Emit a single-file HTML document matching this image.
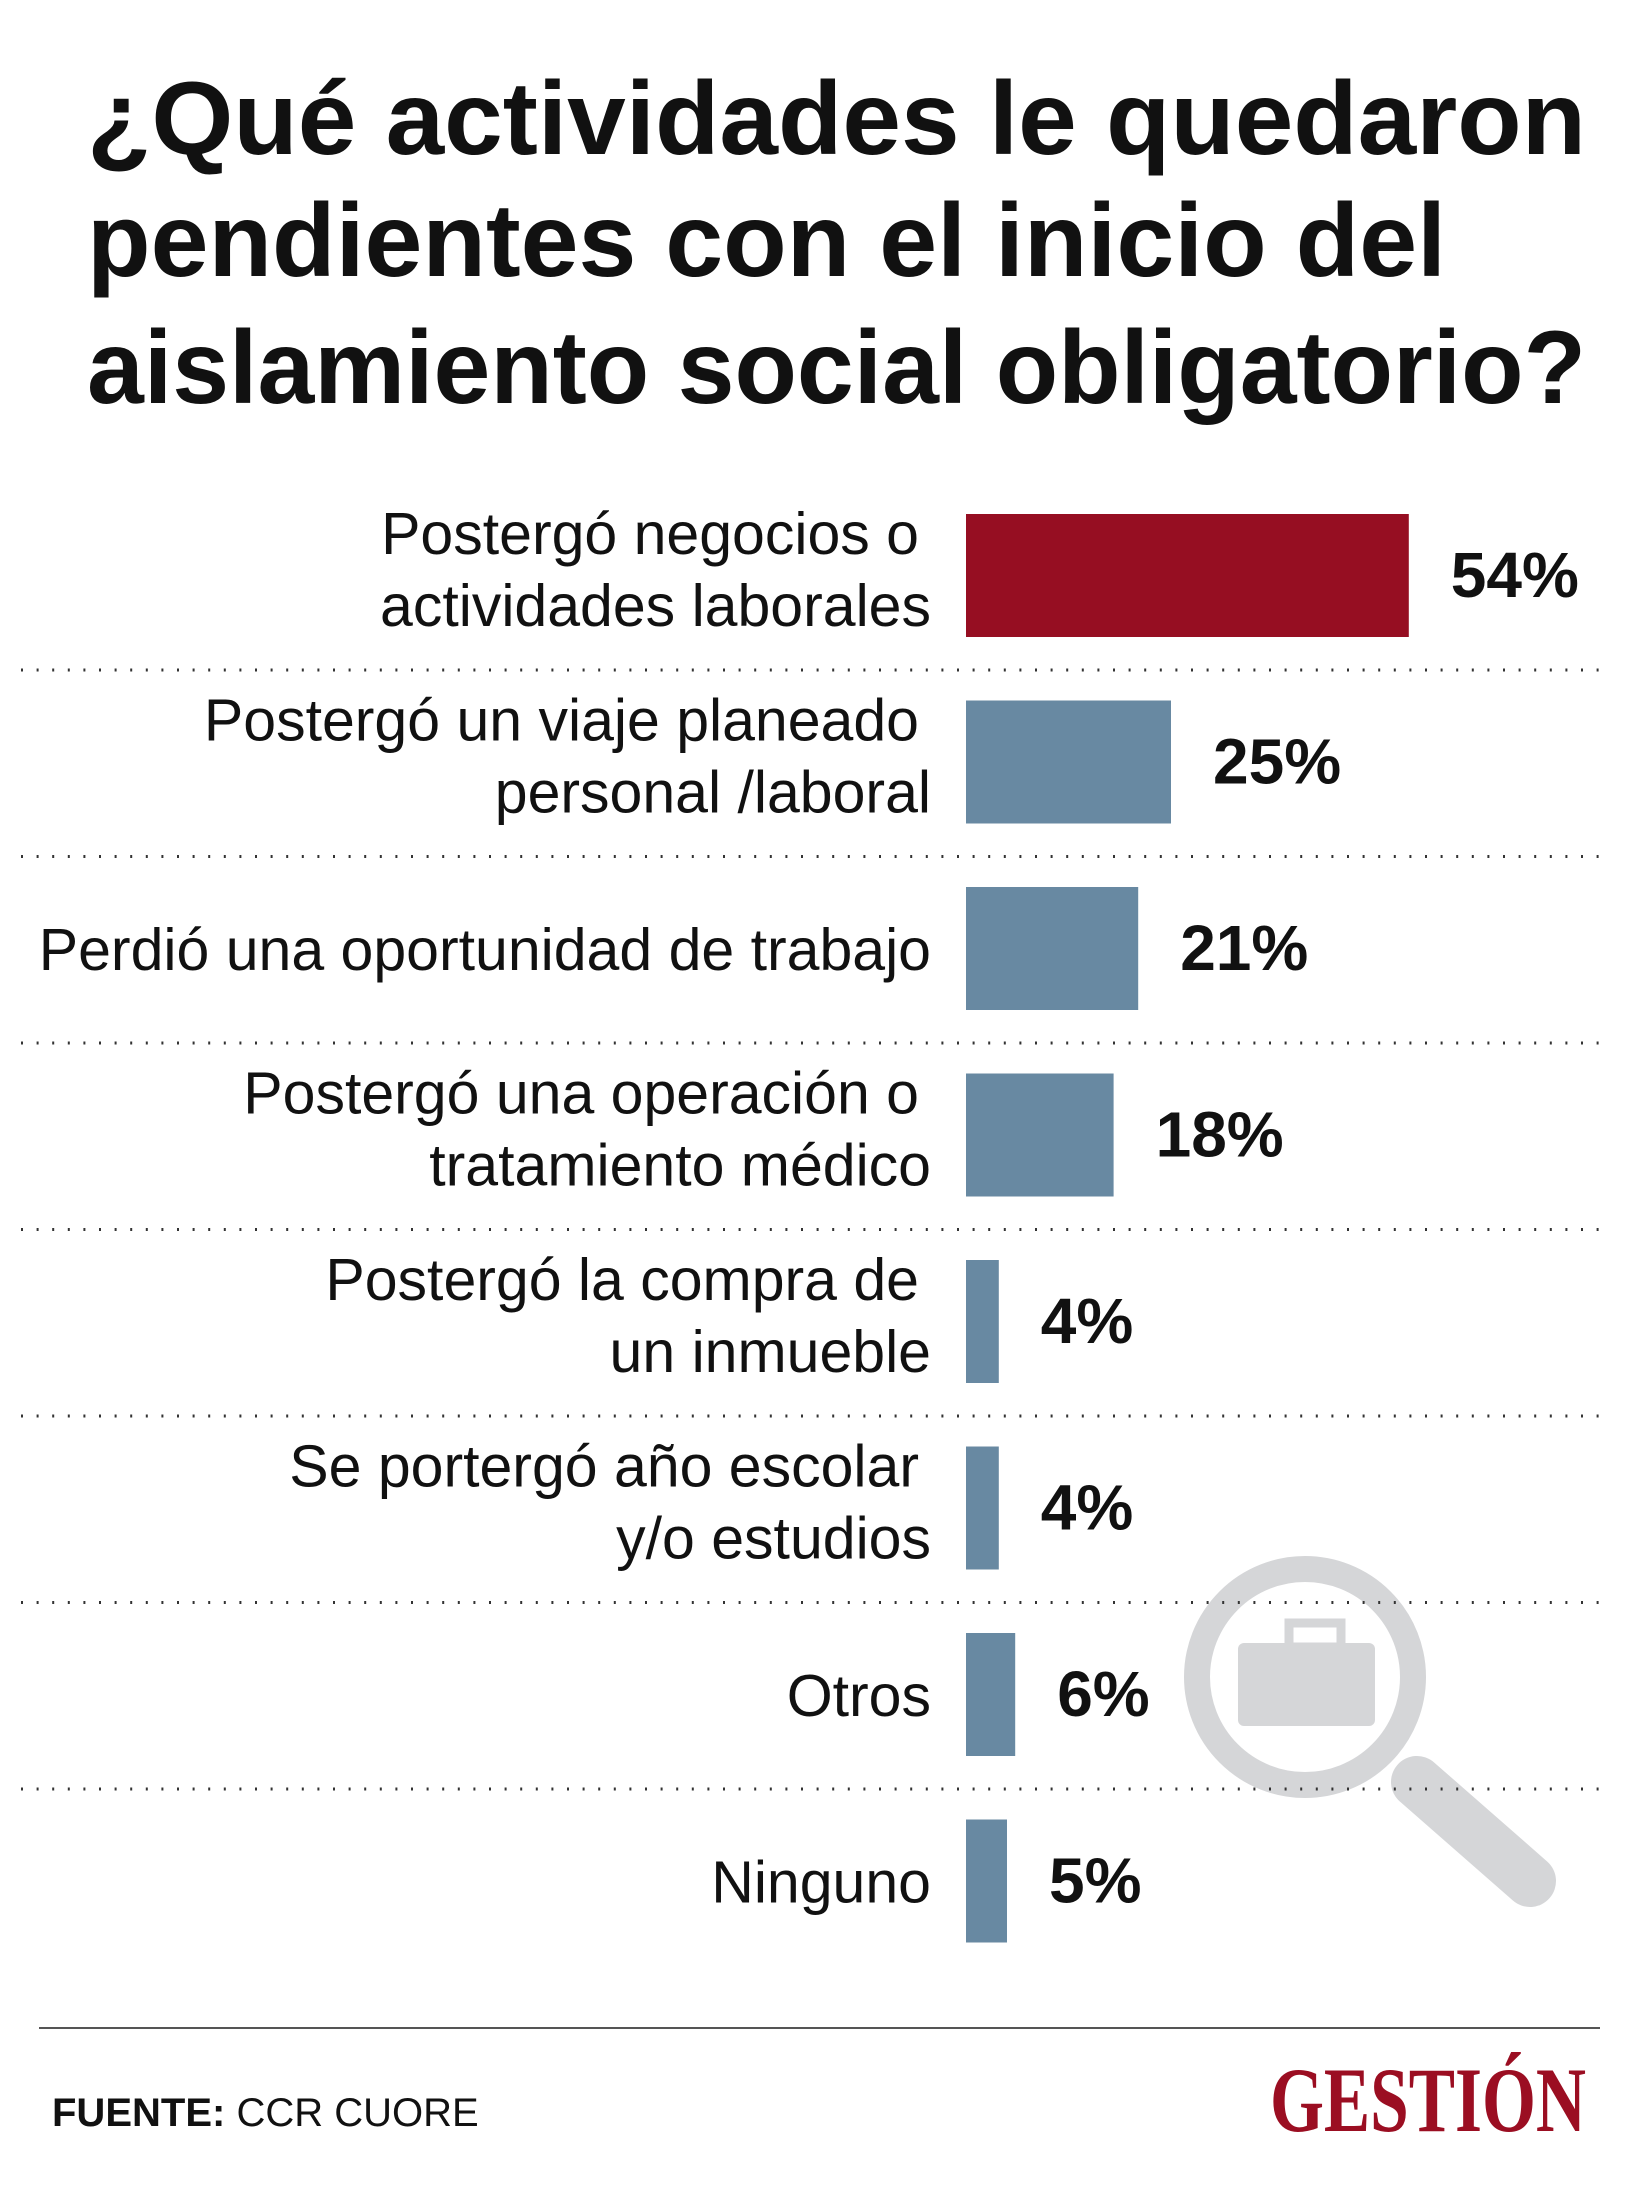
<!DOCTYPE html>
<html><head><meta charset="utf-8"><style>html,body{margin:0;padding:0;background:#fff}svg{display:block}</style></head>
<body>
<svg id="chart" width="1628" height="2186" viewBox="0 0 1628 2186" xmlns="http://www.w3.org/2000/svg" font-family="'Liberation Sans', sans-serif">
<g font-weight="bold" font-size="104" fill="#111">
<text x="87" y="154" textLength="1499" lengthAdjust="spacingAndGlyphs">¿Qué actividades le quedaron</text>
<text x="87" y="276" textLength="1359" lengthAdjust="spacingAndGlyphs">pendientes con el inicio del</text>
<text x="87" y="403" textLength="1499" lengthAdjust="spacingAndGlyphs">aislamiento social obligatorio?</text>
</g>
<g id="magnifier">
<line x1="1417" y1="1782" x2="1530" y2="1881" stroke="#d5d6d8" stroke-width="52" stroke-linecap="round"/>
<circle cx="1305" cy="1677" r="108" fill="#fff" stroke="#d5d6d8" stroke-width="26"/>
<rect x="1289" y="1623" width="52" height="24" fill="none" stroke="#d5d6d8" stroke-width="9"/>
<rect x="1238" y="1643" width="137" height="83" rx="6" fill="#d5d6d8"/>
</g>
<g id="rows"></g>
<line x1="39" y1="2028" x2="1600" y2="2028" stroke="#555" stroke-width="2"/>
<text x="52" y="2126" font-size="40" fill="#111"><tspan font-weight="bold">FUENTE:</tspan> CCR CUORE</text>
<text x="1270" y="2131" font-family="'Liberation Serif', serif" font-weight="bold" font-size="92" fill="#9b0e22" textLength="316" lengthAdjust="spacingAndGlyphs">GESTIÓN</text>
</svg>
<script>
const categories = [["Postergó negocios o","actividades laborales"],["Postergó un viaje planeado","personal /laboral"],["Perdió una oportunidad de trabajo"],["Postergó una operación o","tratamiento médico"],["Postergó la compra de","un inmueble"],["Se portergó año escolar","y/o estudios"],["Otros"],["Ninguno"]];
const values = [54,25,21,18,4,4,6,5];
const valueLabels = ["54%","25%","21%","18%","4%","4%","6%","5%"];
const NS="http://www.w3.org/2000/svg";
const g=document.getElementById('rows');
const x0=966, pxPer=8.2, top0=514, step=186.5, barH=123;
const xScale=v=>v*pxPer;
const yScale=i=>top0+i*step;
function mk(tag,attrs,parent){const e=document.createElementNS(NS,tag);for(const k in attrs)e.setAttribute(k,attrs[k]);parent.appendChild(e);return e;}
values.forEach((v,i)=>{
  const y=yScale(i);
  const bar=mk('rect',{x:x0,y:y,width:xScale(v),height:barH,fill:i===0?'#960e22':'#6889a2'},g);
  
  
  const lines=categories[i];
  const lab=mk('text',{'text-anchor':'end','font-size':'59',fill:'#111'},g);
  
  
  if(lines.length===2){
    mk('tspan',{x:919,y:y+40},lab).textContent=lines[0];
    mk('tspan',{x:931,y:y+112},lab).textContent=lines[1];
  } else {
    mk('tspan',{x:931,y:y+83},lab).textContent=lines[0];
  }
  const val=mk('text',{x:x0+xScale(v)+42,y:y+83,'font-size':'64','font-weight':'bold',fill:'#111'},g);
  
  
  val.textContent=valueLabels[i];
  if(i<values.length-1){
    const ln=mk('line',{x1:21,x2:1600,y1:y+156,y2:y+156,stroke:'#333','stroke-width':3,'stroke-dasharray':'2 13.6'},g);
    
    
  }
});
</script>
</body></html>
